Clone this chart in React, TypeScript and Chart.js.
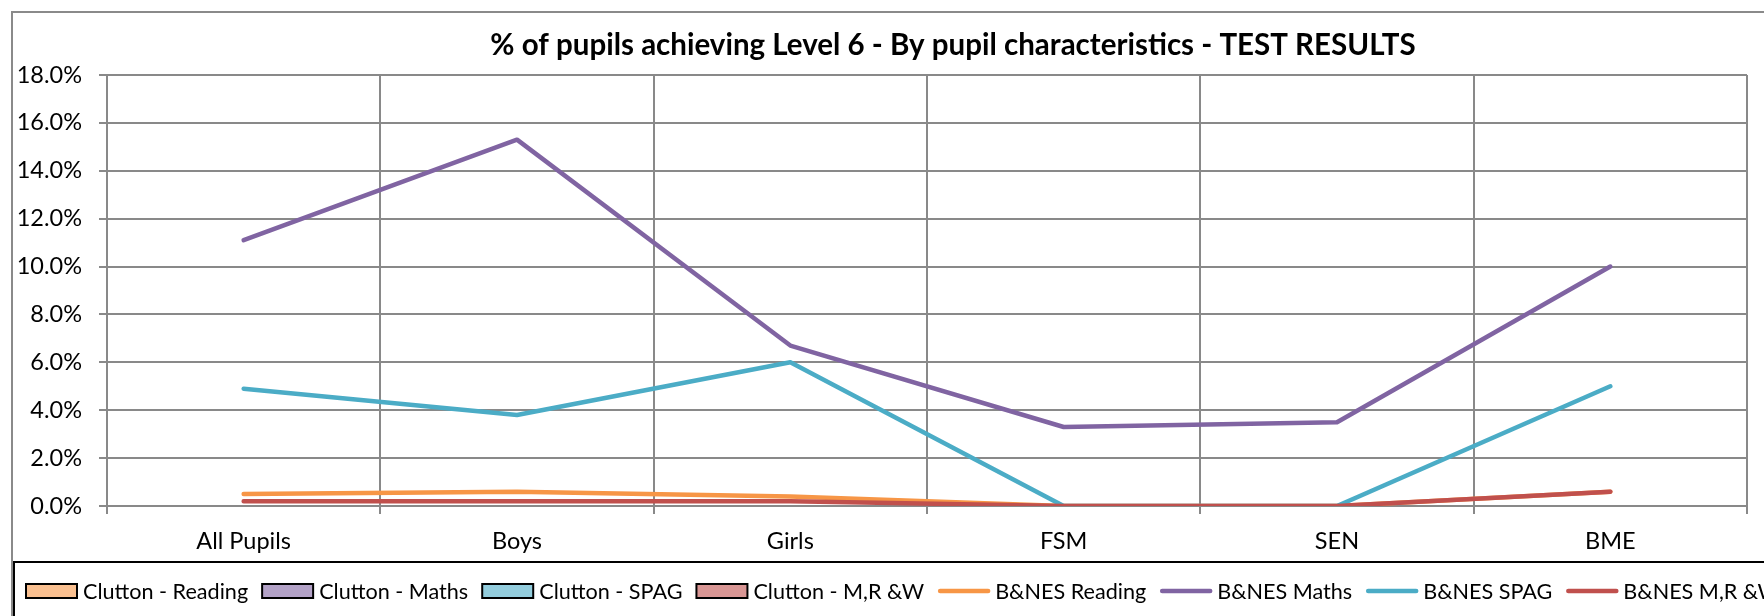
import React, { useEffect, useRef } from 'react';
import { Chart, registerables } from 'chart.js';

Chart.register(...registerables);

const categories = ['All Pupils', 'Boys', 'Girls', 'FSM', 'SEN', 'BME'];

// Clutton series (no visible bars in the reference, legend entries only)
const cluttonReading = [null, null, null, null, null, null];
const cluttonMaths = [null, null, null, null, null, null];
const cluttonSpag = [null, null, null, null, null, null];
const cluttonMRW = [null, null, null, null, null, null];

// B&NES series (percent)
const bnesReading = [0.5, 0.6, 0.4, 0.0, 0.0, 0.6];
const bnesMaths = [11.1, 15.3, 6.7, 3.3, 3.5, 10.0];
const bnesSpag = [4.9, 3.8, 6.0, 0.0, 0.0, 5.0];
const bnesMRW = [0.2, 0.2, 0.2, 0.0, 0.0, 0.6];

const yMin = 0;
const yMax = 18;
const yStep = 2;

const titleText = '% of pupils achieving Level 6 - By pupil characteristics - TEST RESULTS';

const FONT = 'Lato, "Open Sans", sans-serif';
const GRID = '#898989';

const framePlugin = {
  id: 'frame',
  beforeDraw(chart: any) {
    const ctx = chart.ctx;
    ctx.save();
    ctx.fillStyle = '#ffffff';
    ctx.fillRect(0, 0, chart.width, chart.height);
    ctx.restore();
  },
  afterDraw(chart: any) {
    const ctx = chart.ctx;
    const W = chart.width;
    const H = chart.height;
    ctx.save();
    // outer chart border (gray)
    ctx.strokeStyle = '#8a8a8a';
    ctx.lineWidth = 2;
    ctx.beginPath();
    ctx.moveTo(12, H + 2);
    ctx.lineTo(12, 12);
    ctx.lineTo(W + 2, 12);
    ctx.stroke();

    // title
    ctx.fillStyle = '#000';
    ctx.font = `bold 29.5px ${FONT}`;
    ctx.textAlign = 'center';
    ctx.textBaseline = 'alphabetic';
    ctx.fillText(titleText, 953, 55);

    // legend box (black)
    ctx.strokeStyle = '#000';
    ctx.lineWidth = 2;
    ctx.beginPath();
    ctx.moveTo(14, H + 2);
    ctx.lineTo(14, 562);
    ctx.lineTo(W + 2, 562);
    ctx.stroke();

    // legend entries
    const cy = 591;
    let x = 26;
    ctx.font = `21.6px ${FONT}`;
    ctx.textAlign = 'left';
    ctx.textBaseline = 'middle';
    chart.data.datasets.forEach((ds: any) => {
      const sw = 51;
      if (ds.type === 'bar') {
        ctx.fillStyle = ds.backgroundColor;
        ctx.fillRect(x, cy - 7, sw, 14);
        ctx.strokeStyle = '#000';
        ctx.lineWidth = 2;
        ctx.strokeRect(x, cy - 7, sw, 14);
      } else {
        ctx.strokeStyle = ds.borderColor;
        ctx.lineWidth = 4.5;
        ctx.lineCap = 'round';
        ctx.beginPath();
        ctx.moveTo(x + 2, cy);
        ctx.lineTo(x + sw - 1, cy);
        ctx.stroke();
      }
      x += sw + 6;
      ctx.fillStyle = '#000';
      ctx.fillText(ds.label, x, cy + 1);
      x += ctx.measureText(ds.label).width + 14;
    });
    ctx.restore();
  },
};

export default function App() {
  const ref = useRef<HTMLCanvasElement | null>(null);

  useEffect(() => {
    if (!ref.current) return;
    const lineDs = (label: string, data: number[], color: string, order: number) => ({
      type: 'line',
      label,
      data,
      borderColor: color,
      backgroundColor: color,
      borderWidth: 4.5,
      pointRadius: 0,
      tension: 0,
      fill: false,
      order,
      borderCapStyle: 'round',
      borderJoinStyle: 'round',
    });
    const barDs = (label: string, data: any[], color: string) => ({
      type: 'bar',
      label,
      data,
      backgroundColor: color,
      borderColor: '#000',
      borderWidth: 1,
      order: 10,
    });
    const chart = new Chart(ref.current, {
      type: 'bar',
      data: {
        labels: categories,
        datasets: [
          barDs('Clutton - Reading', cluttonReading, '#FAC090'),
          barDs('Clutton - Maths', cluttonMaths, '#B3A2C7'),
          barDs('Clutton - SPAG', cluttonSpag, '#93CDDD'),
          barDs('Clutton - M,R &W', cluttonMRW, '#D99694'),
          lineDs('B&NES Reading', bnesReading, '#F79646', 4),
          lineDs('B&NES Maths', bnesMaths, '#8064A2', 3),
          lineDs('B&NES SPAG', bnesSpag, '#4BACC6', 2),
          lineDs('B&NES M,R &W', bnesMRW, '#C0504D', 1),
        ] as any,
      },
      options: {
        responsive: false,
        animation: false,
        devicePixelRatio: 1,
        layout: { padding: { left: 0, right: 17, top: 75, bottom: 0 } },
        plugins: {
          legend: { display: false },
          title: { display: false },
          tooltip: { enabled: false },
        },
        scales: {
          x: {
            type: 'category',
            offset: true,
            grid: { offset: true, color: GRID, lineWidth: 2, tickLength: 8, drawTicks: true },
            border: { display: true, color: GRID, width: 2 },
            ticks: {
              color: '#000',
              font: { family: FONT, size: 23.5 },
              padding: 13,
              maxRotation: 0,
              autoSkip: false,
            },
            afterFit(s: any) {
              s.height = 110;
            },
          },
          y: {
            min: yMin,
            max: yMax,
            grid: { color: GRID, lineWidth: 2, tickLength: 8, drawTicks: true },
            border: { display: true, color: GRID, width: 2 },
            ticks: {
              stepSize: yStep,
              color: '#000',
              font: { family: FONT, size: 23.5 },
              padding: 17,
              callback: (v: any) => Number(v).toFixed(1) + '%',
            },
            afterFit(s: any) {
              s.width = 107;
            },
          },
        },
      },
      plugins: [framePlugin],
    } as any);
    return () => chart.destroy();
  }, []);

  return (
    <div style={{ position: 'fixed', left: 0, top: 0, width: 1764, height: 616, background: '#fff' }}>
      <canvas ref={ref} width={1764} height={616} style={{ display: 'block', width: 1764, height: 616 }} />
    </div>
  );
}
